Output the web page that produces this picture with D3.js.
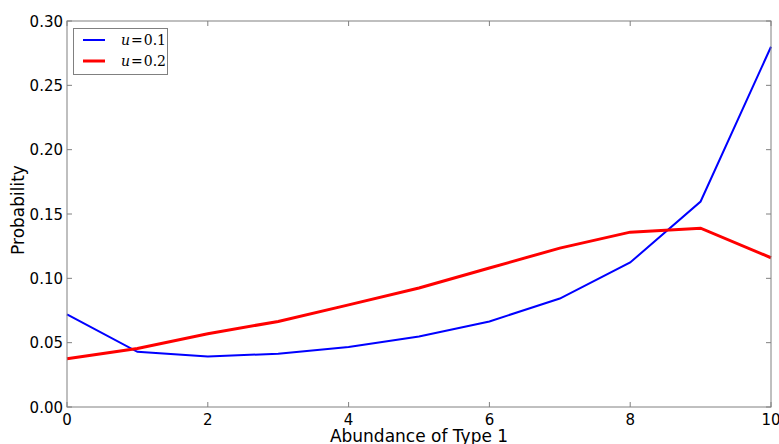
<!DOCTYPE html>
<html><head><meta charset="utf-8">
<script src="https://cdn.jsdelivr.net/npm/d3@7"></script>
<style>body{margin:0;background:#fff}svg{display:block}</style>
</head><body>
<script>
const xs = [0,1,2,3,4,5,6,7,8,9,10];
const u01 = [0.0719,0.0429,0.0393,0.0414,0.0466,0.0548,0.0665,0.0843,0.1123,0.1597,0.2800];
const u02 = [0.0375,0.0455,0.0570,0.0665,0.0794,0.0925,0.1080,0.1235,0.1359,0.1390,0.1160];
const xTicks = [0,2,4,6,8,10];
const yTicks = [0,0.05,0.10,0.15,0.20,0.25,0.30];
const seriesNames = ["0.1","0.2"];
const colors = ["#0000ff","#ff0000"];
const widths = [2,3];

const W=779,H=444, L=67, R=771, T=21, B=407;
const svg=d3.select("body").append("svg").attr("width",W).attr("height",H);
const x=d3.scaleLinear().domain([0,10]).range([L,R]);
const y=d3.scaleLinear().domain([0,0.30]).range([B,T]);
const font="'DejaVu Sans', sans-serif";

// lines
const line=d3.line().x((d,i)=>x(xs[i])).y(d=>y(d));
[u01,u02].forEach((s,k)=>{
  svg.append("path").attr("d",line(s)).attr("fill","none")
    .attr("stroke",colors[k]).attr("stroke-width",widths[k]).attr("stroke-linejoin","miter");
});

// frame
svg.append("rect").attr("x",L).attr("y",T).attr("width",R-L).attr("height",B-T)
  .attr("fill","none").attr("stroke","#808080").attr("stroke-width",1);

// ticks inside on all sides
const tl=5;
xTicks.forEach(v=>{
  svg.append("line").attr("x1",x(v)).attr("x2",x(v)).attr("y1",B).attr("y2",B-tl).attr("stroke","#808080");
  svg.append("line").attr("x1",x(v)).attr("x2",x(v)).attr("y1",T).attr("y2",T+tl).attr("stroke","#808080");
  svg.append("text").attr("x",x(v)).attr("y",B+17.5).attr("text-anchor","middle")
    .attr("font-family",font).attr("font-size",15).attr("fill","#000").text(d3.format("d")(v));
});
yTicks.forEach(v=>{
  svg.append("line").attr("x1",L).attr("x2",L+tl).attr("y1",y(v)).attr("y2",y(v)).attr("stroke","#808080");
  svg.append("line").attr("x1",R).attr("x2",R-tl).attr("y1",y(v)).attr("y2",y(v)).attr("stroke","#808080");
  svg.append("text").attr("x",L-4).attr("y",y(v)+5.5).attr("text-anchor","end")
    .attr("font-family",font).attr("font-size",15).attr("fill","#000").text(d3.format(".2f")(v));
});

// axis labels
svg.append("text").attr("x",(L+R)/2).attr("y",442).attr("text-anchor","middle")
  .attr("font-family",font).attr("font-size",17).text("Abundance of Type 1");
svg.append("text").attr("transform","translate(24,210) rotate(-90)").attr("text-anchor","middle")
  .attr("font-family",font).attr("font-size",17).text("Probability");

// legend
const lg=svg.append("g");
lg.append("rect").attr("x",73.5).attr("y",28.5).attr("width",94).attr("height",46)
  .attr("fill","#fff").attr("stroke","#808080");
seriesNames.forEach((n,k)=>{
  const yy=40+k*21;
  lg.append("line").attr("x1",83).attr("x2",105).attr("y1",yy).attr("y2",yy)
    .attr("stroke",colors[k]).attr("stroke-width",widths[k]);
  const t=lg.append("text").attr("x",121).attr("y",yy+5).attr("font-family","'DejaVu Serif', serif").attr("font-size",14);
  t.append("tspan").attr("font-style","italic").text("u");
  t.append("tspan").attr("dx",1).text("=");
  t.append("tspan").attr("dx",1).text(n);
});
</script>
</body></html>
